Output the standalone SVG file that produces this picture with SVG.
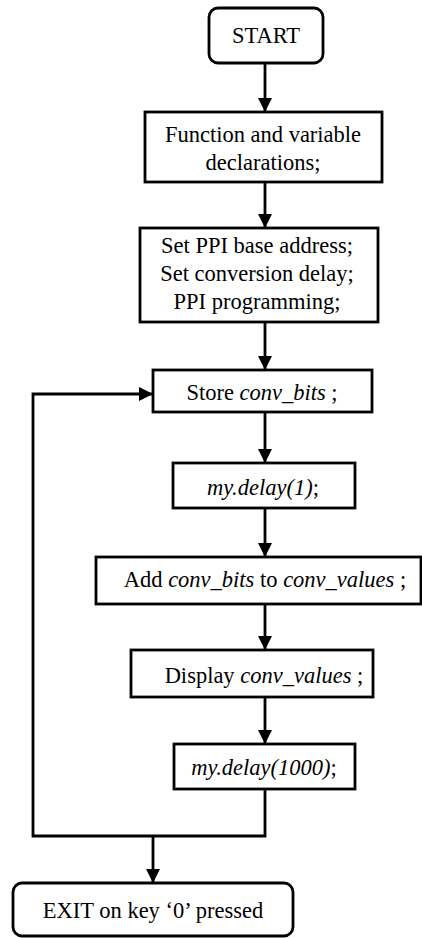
<svg xmlns="http://www.w3.org/2000/svg" width="422" height="938" viewBox="0 0 422 938">
<defs>
<style>
.box{fill:#fff;stroke:#000;stroke-width:2.8}
.t{font-family:"Liberation Serif","Times New Roman",serif;font-size:22.5px;fill:#000;text-anchor:middle}
.i{font-style:italic}
.c{fill:none;stroke:#000;stroke-width:2.8}
</style>
<marker id="ah" markerUnits="userSpaceOnUse" markerWidth="14" markerHeight="14" refX="14" refY="7" orient="auto">
<path d="M0,0 L14,7 L0,14 z" fill="#000"/>
</marker>
</defs>
<rect width="422" height="938" fill="#fff"/>
<g id="connectors">
<line class="c" x1="265" y1="63" x2="265" y2="112" marker-end="url(#ah)"/>
<line class="c" x1="265" y1="182" x2="265" y2="228" marker-end="url(#ah)"/>
<line class="c" x1="265" y1="322" x2="265" y2="370" marker-end="url(#ah)"/>
<line class="c" x1="265" y1="412" x2="265" y2="463" marker-end="url(#ah)"/>
<line class="c" x1="265" y1="508" x2="265" y2="557" marker-end="url(#ah)"/>
<line class="c" x1="265" y1="604" x2="265" y2="650" marker-end="url(#ah)"/>
<line class="c" x1="265" y1="697" x2="265" y2="744" marker-end="url(#ah)"/>
<polyline class="c" points="265,789 265,836 33,836 33,394 153,394" marker-end="url(#ah)"/>
<line class="c" x1="153" y1="836" x2="153" y2="883" marker-end="url(#ah)"/>
</g>
<g id="start">
<rect class="box" x="209" y="8" width="114" height="55" rx="9"/>
<text class="t" x="266" y="43">START</text>
</g>
<g id="declarations">
<rect class="box" x="145" y="112" width="237" height="70"/>
<text class="t" x="263" y="142">Function and variable</text>
<text class="t" x="263" y="170">declarations;</text>
</g>
<g id="setup">
<rect class="box" x="140" y="228" width="238" height="94"/>
<text class="t" x="257" y="253">Set PPI base address;</text>
<text class="t" x="257" y="281">Set conversion delay;</text>
<text class="t" x="257" y="309">PPI programming;</text>
</g>
<g id="store">
<rect class="box" x="153" y="370" width="219" height="42"/>
<text class="t" x="262" y="400">Store <tspan class="i">conv_bits</tspan> ;</text>
</g>
<g id="delay1">
<rect class="box" x="173" y="463" width="182" height="45"/>
<text class="t" x="263" y="495"><tspan class="i">my.delay(1)</tspan>;</text>
</g>
<g id="add">
<rect class="box" x="96" y="557" width="325" height="47"/>
<text class="t" x="265" y="587">Add <tspan class="i">conv_bits</tspan> to <tspan class="i">conv_values</tspan> ;</text>
</g>
<g id="display">
<rect class="box" x="131" y="650" width="242" height="47"/>
<text class="t" x="264" y="683">Display <tspan class="i">conv_values</tspan> ;</text>
</g>
<g id="delay1000">
<rect class="box" x="174" y="744" width="181" height="45"/>
<text class="t" x="264" y="775"><tspan class="i">my.delay(1000)</tspan>;</text>
</g>
<g id="exit">
<rect class="box" x="13" y="883" width="280" height="53" rx="9"/>
<text class="t" x="153" y="918">EXIT on key ‘0’ pressed</text>
</g>
</svg>
